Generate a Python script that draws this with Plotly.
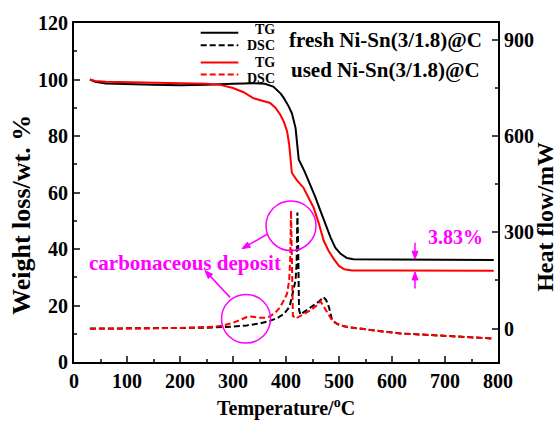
import math
import plotly.graph_objects as go

# ---------------- data ----------------
t_tg_fresh = [30, 40, 60, 100, 150, 200, 250, 300, 340, 360, 376, 390, 396, 405, 411, 418, 421, 424,
              435, 446, 455, 465, 475, 484, 493, 503, 515, 527, 600, 700, 792]
w_tg_fresh = [100, 99.2, 98.6, 98.3, 98.1, 98.0, 98.1, 98.5, 98.7, 98.5, 97.5, 95.0, 93.4, 90.5, 88.1, 82.9, 77.0, 71.7,
              67.5, 62.9, 58.5, 53.5, 48.5, 44.1, 40.5, 38.3, 36.8, 36.4, 36.3, 36.2, 36.1]

t_tg_used = [30, 40, 60, 100, 150, 200, 250, 276, 300, 320, 338, 355, 370, 380, 389, 396, 402, 406, 409, 411,
             420, 433, 452, 462, 471, 480, 490, 500, 510, 525, 600, 700, 792]
w_tg_used = [100, 99.5, 99.2, 99.0, 98.9, 98.7, 98.5, 98.1, 97.0, 95.5, 93.4, 92.5, 91.7, 90.0, 87.6, 85.0, 81.7, 77.0, 71.0, 67.0,
             64.5, 61.7, 54.7, 49.0, 43.0, 39.5, 36.5, 34.0, 32.8, 32.4, 32.4, 32.3, 32.3]

t_dsc_fresh = [30, 60, 100, 150, 200, 250, 282, 300, 326, 350, 370, 385, 396, 404, 408, 411, 415, 418, 420, 421.5, 423, 424.5,
               427, 440, 452, 462, 471, 476, 481, 487, 495, 503, 516, 528, 550, 578, 616, 650, 679, 710, 742, 770, 792]
v_dsc_fresh = [0, 0, 0, 1, 2, 3, 4, 6, 10, 16, 24, 34, 46, 62, 77, 100, 125, 150, 200, 362, 250, 60,
               44, 58, 72, 84, 98, 88, 67, 26, 16, 10, 5, 3, -2, -8, -15, -18, -21, -23, -26, -29, -31]

t_dsc_used = [30, 60, 100, 150, 200, 250, 265, 282, 300, 315, 326, 333, 340, 348, 360, 370, 380, 389, 398, 402, 406, 408, 409.5,
              411, 413, 418, 430, 446, 458, 465, 470, 478, 487, 495, 503, 516, 528, 550, 578, 616, 650, 679, 710, 742, 770, 792]
v_dsc_used = [-1, 0, 0, 1, 2, 4, 6, 10, 18, 28, 36, 38, 36, 34, 34, 38, 50, 67, 95, 109, 150, 220, 368,
              250, 40, 31, 42, 57, 72, 85, 72, 50, 26, 16, 10, 5, 3, -2, -8, -15, -18, -21, -23, -26, -29, -31]

x_ticks = [0, 100, 200, 300, 400, 500, 600, 700, 800]
y_ticks = [0, 20, 40, 60, 80, 100, 120]
y2_ticks = [0, 300, 600, 900]

# ---------------- geometry helpers (pixel -> paper) ----------------
W, H = 560, 421
L, R, T, B = 74, 498, 21, 362


def px(x):
    return (x - L) / (R - L)


def py(y):
    return (B - y) / (B - T)


FONT = "Liberation Serif, Times New Roman, serif"
MAG = "#FF00FF"
DASH = "6px,3px"

fig = go.Figure()
fig.add_trace(go.Scatter(x=t_tg_fresh, y=w_tg_fresh, mode="lines", line=dict(color="black", width=2),
                         showlegend=False))
fig.add_trace(go.Scatter(x=t_dsc_fresh, y=v_dsc_fresh, mode="lines", yaxis="y2",
                         line=dict(color="black", width=2, dash=DASH), showlegend=False))
fig.add_trace(go.Scatter(x=t_tg_used, y=w_tg_used, mode="lines", line=dict(color="#FF0000", width=2),
                         showlegend=False))
fig.add_trace(go.Scatter(x=t_dsc_used, y=v_dsc_used, mode="lines", yaxis="y2",
                         line=dict(color="#FF0000", width=2, dash=DASH), showlegend=False))

tickfont = dict(family=FONT, size=20, color="black", weight="bold")

fig.update_layout(
    width=W, height=H,
    margin=dict(l=L, r=W - R, t=T, b=H - B, pad=0),
    paper_bgcolor="white", plot_bgcolor="white",
    xaxis=dict(range=[0, 800], tickvals=x_ticks, ticks="inside", ticklen=6, tickwidth=2,
               minor=dict(ticks="inside", ticklen=3, tickwidth=2, dtick=50, tick0=0),
               showline=True, linewidth=2, linecolor="black", mirror=True,
               showgrid=False, zeroline=False, tickfont=tickfont),
    yaxis=dict(range=[0, 120], tickvals=y_ticks, ticks="inside", ticklen=6, tickwidth=2,
               minor=dict(ticks="inside", ticklen=3, tickwidth=2, dtick=10, tick0=0),
               showline=True, linewidth=2, linecolor="black",
               showgrid=False, zeroline=False, tickfont=tickfont),
    yaxis2=dict(range=[-104, 952], tickvals=y2_ticks, overlaying="y", side="right",
                ticks="inside", ticklen=6, tickwidth=2,
                minor=dict(ticks="inside", ticklen=3, tickwidth=2, dtick=150, tick0=0),
                showline=True, linewidth=2, linecolor="black",
                showgrid=False, zeroline=False, tickfont=tickfont),
)

shapes = []
# legend samples
for yy, col, dash in [(30.7, "black", "solid"), (43.3, "black", DASH),
                      (60.7, "#FF0000", "solid"), (72.7, "#FF0000", DASH)]:
    shapes.append(dict(type="line", xref="paper", yref="paper", x0=px(200.7), x1=px(238.3),
                       y0=py(yy), y1=py(yy), line=dict(color=col, width=2, dash=dash)))
# circles
shapes.append(dict(type="circle", xref="paper", yref="paper", x0=px(266), x1=px(316), y0=py(250), y1=py(200),
                   line=dict(color=MAG, width=1.5)))
shapes.append(dict(type="circle", xref="paper", yref="paper", x0=px(221.5), x1=px(270.5), y0=py(343), y1=py(294),
                   line=dict(color=MAG, width=1.5)))


def arrow(hx, hy, tx, ty, hl=8.0, hw=3.0):
    dx, dy = hx - tx, hy - ty
    n = math.hypot(dx, dy)
    ux, uy = dx / n, dy / n
    bx, by = hx - ux * hl, hy - uy * hl
    shapes.append(dict(type="line", xref="paper", yref="paper", x0=px(tx), y0=py(ty), x1=px(bx), y1=py(by),
                       line=dict(color=MAG, width=1.5)))
    p1 = (bx - uy * hw, by + ux * hw)
    p2 = (bx + uy * hw, by - ux * hw)
    path = "M {:.5f},{:.5f} L {:.5f},{:.5f} L {:.5f},{:.5f} Z".format(
        px(hx), py(hy), px(p1[0]), py(p1[1]), px(p2[0]), py(p2[1]))
    shapes.append(dict(type="path", xref="paper", yref="paper", path=path,
                       fillcolor=MAG, line=dict(color=MAG, width=1)))


arrow(205, 270, 230, 297)
arrow(242, 248, 268, 233)
arrow(415, 258.5, 415, 242)
arrow(415, 271.5, 415, 288)
fig.update_layout(shapes=shapes)

ann = []


def text(x, y, s, size, color="black", xanchor="center", angle=0):
    ann.append(dict(x=px(x), y=py(y), xref="paper", yref="paper", text=s, showarrow=False,
                    xanchor=xanchor, yanchor="middle", textangle=angle,
                    font=dict(family=FONT, size=size, color=color, weight="bold")))


text(277, 28, "TG", 14, xanchor="right")
text(277, 44, "DSC", 14, xanchor="right")
text(277, 61, "TG", 14, xanchor="right")
text(277, 77, "DSC", 14, xanchor="right")
text(287, 38, "fresh Ni-Sn(3/1.8)@C", 21, xanchor="left")
text(289, 68, "used Ni-Sn(3/1.8)@C", 21, xanchor="left")
text(185, 262, "carbonaceous deposit", 21, color=MAG)
text(455, 236, "3.83%", 20, color=MAG)
text(22, 214, "Weight loss/wt. %", 26, angle=-90)
text(545, 216, "Heat flow/mW", 24, angle=-90)
text(285.5, 408, "Temperature/<sup>o</sup>C", 20)

fig.update_layout(annotations=ann)

fig.write_html("out.html")
